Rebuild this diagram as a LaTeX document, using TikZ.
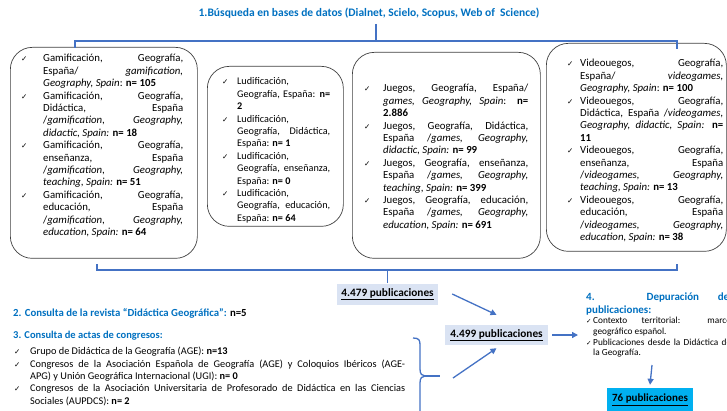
\documentclass[tikz,border=0pt]{standalone}
\usepackage{fontspec}
\setmainfont{Carlito}
\newfontfamily\symf{DejaVu Sans}
\usetikzlibrary{arrows.meta}
\definecolor{hb}{HTML}{0070C0}
\definecolor{ln}{HTML}{4472C4}
\definecolor{bx}{HTML}{DAE3F3}
\definecolor{cy}{HTML}{00B0F0}
\definecolor{bd}{HTML}{404040}
\tolerance=10000
\hbadness=10000
\hyphenpenalty=10000
\newcommand\itm[3][7.5]{\par\hangindent=#2\hangafter=1\noindent\makebox[#2][l]{\strut{\symf\fontsize{#1}{#1}\selectfont ✓}}#3\par}
\tikzset{
  rbox/.style={draw=bd, line width=0.7pt, rounded corners=22pt, anchor=north west, inner sep=0pt},
  btxt/.style={anchor=north west, inner sep=0pt, align=justify, font=\fontsize{10.8}{12.4}\selectfont},
  conn/.style={draw=ln, line width=1.3pt},
  arr/.style={conn, -{Triangle[length=6pt,width=6pt]}},
  pub/.style={inner sep=0pt, font=\bfseries\fontsize{11.3}{13}\selectfont},
}
\begin{document}
\begin{tikzpicture}[x=1pt,y=-1pt]
\useasboundingbox (0,0) rectangle (727,411);
\clip (0,0) rectangle (727,411);
% title
\node[font=\bfseries\fontsize{11.5}{13}\selectfont, text=hb, inner sep=0pt] (title) at (369,13)
  {1.Búsqueda en bases de datos (Dialnet, Scielo, Scopus, Web of\ \ Science)};
% boxes
\node[rbox, minimum width=187pt, minimum height=211pt] (b1) at (10,47) {};
\node[rbox, minimum width=136pt, minimum height=160pt] (b2) at (207,66) {};
\node[rbox, minimum width=188pt, minimum height=206pt] (b3) at (352,52) {};
\node[rbox, minimum width=180pt, minimum height=208pt] (b4) at (546,43) {};
% box texts
\node[btxt, text width=162pt] (t1) at (21,49.3) {%
\itm{22pt}{Gamificación, Geografía,\linebreak España/ \textit{gamification,\linebreak Geography, Spain}: \textbf{n= 105}}
\itm{22pt}{Gamificación, Geografía,\linebreak Didáctica, España\linebreak /\textit{gamification, Geography,\linebreak didactic, Spain:} \textbf{n= 18}}
\itm{22pt}{Gamificación, Geografía,\linebreak enseñanza, España\linebreak /\textit{gamification, Geography,\linebreak teaching, Spain:} \textbf{n= 51}}
\itm{22pt}{Gamificación, Geografía,\linebreak educación, España\linebreak /\textit{gamification, Geography,\linebreak education, Spain:} \textbf{n= 64}}};
\node[btxt, text width=108pt, font=\fontsize{10.2}{12.4}\selectfont] (t2) at (222,72.3) {%
\itm{15pt}{Ludificación,\newline Geografía, España: \textbf{n=\linebreak 2}}
\itm{15pt}{Ludificación,\newline Geografía, Didáctica,\linebreak España: \textbf{n= 1}}
\itm{15pt}{Ludificación,\newline Geografía, enseñanza,\linebreak España: \textbf{n= 0}}
\itm{15pt}{Ludificación,\newline Geografía, educación,\linebreak España: \textbf{n= 64}}};
\node[btxt, text width=164pt] (t3) at (364,79.3) {%
\itm{19pt}{Juegos, Geografía, España/\linebreak \textit{games, Geography, Spain}: \textbf{n=\linebreak 2.886}}
\itm{19pt}{Juegos, Geografía, Didáctica,\linebreak España /\textit{games, Geography,\linebreak didactic, Spain:} \textbf{n= 99}}
\itm{19pt}{Juegos, Geografía, enseñanza,\linebreak España /\textit{games, Geography,\linebreak teaching, Spain:} \textbf{n= 399}}
\itm{19pt}{Juegos, Geografía, educación,\linebreak España /\textit{games, Geography,\linebreak education, Spain:} \textbf{n= 691}}};
\node[btxt, text width=156pt] (t4) at (567,54.3) {%
\itm{13pt}{Videouegos, Geografía,\linebreak España/ \textit{videogames,\linebreak Geography, Spain}: \textbf{n= 100}}
\itm{13pt}{Videouegos, Geografía,\linebreak Didáctica, España /\textit{videogames,\linebreak Geography, didactic, Spain:} \textbf{n=\linebreak 11}}
\itm{13pt}{Videouegos, Geografía,\linebreak enseñanza, España\linebreak /\textit{videogames, Geography,\linebreak teaching, Spain:} \textbf{n= 13}}
\itm{13pt}{Videouegos, Geografía,\linebreak educación, España\linebreak /\textit{videogames, Geography,\linebreak education, Spain:} \textbf{n= 38}}};
% top bracket
\coordinate (tT) at (376,24);
\coordinate (tM) at (376,41);
\coordinate (tL) at (75,48);
\coordinate (tR) at (677,49);
\draw[conn] (tL) |- (tM) -| (tR);
\draw[conn] (tT) -- (tM);
% publication boxes
\node[pub, fill=bx, minimum width=101pt, minimum height=21pt] (p1) at (387.5,294) {\underline{4.479 publicaciones}};
\node[pub, fill=bx, minimum width=103pt, minimum height=20pt] (p2) at (496.5,335) {\underline{4.499 publicaciones}};
\node[pub, fill=cy, minimum width=86pt, minimum height=24pt, font=\bfseries\fontsize{11}{13}\selectfont] (p3) at (650,400) {\underline{76 publicaciones}};
% bottom bracket
\coordinate (bL) at (97,264);
\coordinate (bR) at (677,264);
\coordinate (bM) at (387.5,270);
\draw[conn] (bL) |- (bM) -| (bR);
\draw[conn] (bM) -- (p1.north);
% section 2 and 3
\node[anchor=base west, inner sep=0pt, font=\bfseries\fontsize{10.8}{12}\selectfont] (s2) at (13,316)
  {\textcolor{hb}{2. Consulta de la revista “Didáctica Geográfica”:} n=5};
\node[anchor=base west, inner sep=0pt, font=\bfseries\fontsize{10.5}{12}\selectfont, text=hb] (s3) at (13,338)
  {3. Consulta de actas de congresos:};
\node[btxt, text width=391pt, font=\fontsize{10.3}{12.3}\selectfont] (t5) at (14,342.3) {%
\itm{16pt}{Grupo de Didáctica de la Geografía (AGE): \textbf{n=13}}
\itm{16pt}{Congresos de la Asociación Española de Geografía (AGE) y Coloquios Ibéricos (AGE-\linebreak APG) y Unión Geográfica Internacional (UGI): \textbf{n= 0}}
\itm{16pt}{Congresos de la Asociación Universitaria de Profesorado de Didáctica en las Ciencias\linebreak Sociales (AUPDCS): \textbf{n= 2}}};
% brace
\coordinate (brT) at (413,338);
\coordinate (brP) at (425,376);
\coordinate (brE) at (440,376);
\coordinate (brB) at (420,425);
\draw[conn] (brT) .. controls (419,338) and (420,340) .. (420,345) -- (420,369)
  .. controls (420,374) and (422,376) .. (brP)
  .. controls (422,376) and (420,378) .. (420,383) -- (brB);
\draw[conn] (brP) -- (brE);
% arrows
\coordinate (a2s) at (453,378);
\coordinate (a3e) at (578,335);
\coordinate (a4s) at (652,365);
\draw[arr] ([xshift=14pt]p1.east) -- ([yshift=10pt]p2.north);
\draw[arr] (a2s) -- ([yshift=-3pt]p2.south);
\draw[arr] ([xshift=4pt]p2.east) -- (a3e);
\draw[arr] (a4s) -- ([yshift=3pt]p3.north);
% section 4
\node[btxt, text width=143pt, font=\bfseries\fontsize{11}{12.5}\selectfont, text=hb] (t6) at (586,291.8)
  {\strut 4. Depuración de\linebreak publicaciones:};
\node[btxt, text width=145pt, font=\fontsize{9.3}{10.6}\selectfont] (t7) at (586,313)
  {\itm[6.5]{7pt}{Contexto territorial: marco\linebreak geográfico español.}
   \itm[6.5]{7pt}{Publicaciones desde la Didáctica de\linebreak la Geografía.}};
\end{tikzpicture}
\end{document}
